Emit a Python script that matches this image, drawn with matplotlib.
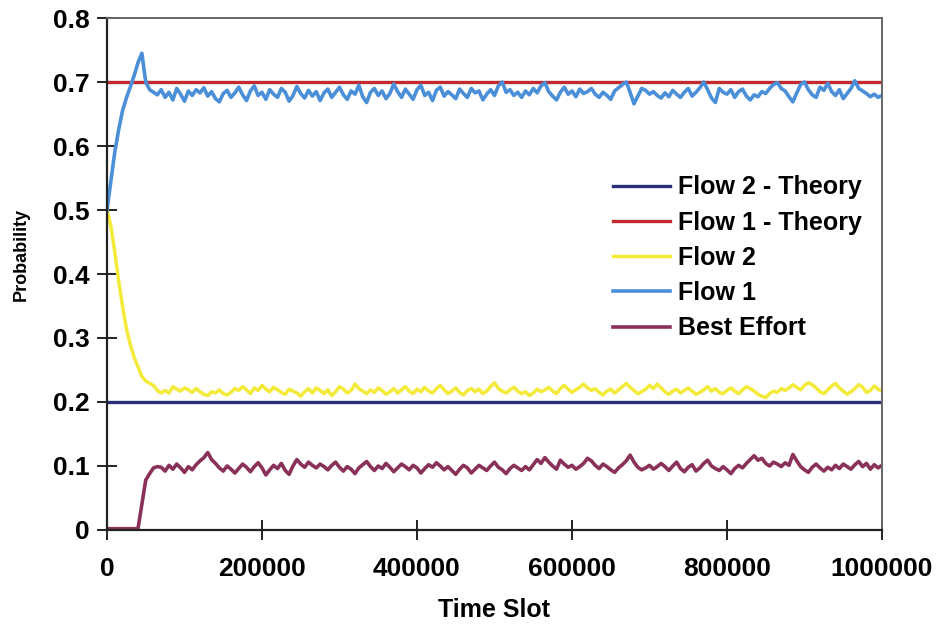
import numpy as np
import matplotlib
matplotlib.use("Agg")
import matplotlib.pyplot as plt

plt.rcParams['font.family'] = ['Liberation Sans', 'DejaVu Sans']
plt.rcParams['font.weight'] = 'bold'

# time slots, one sample every 5000 slots
time_slot = np.arange(0, 1000001, 5000)

flow1_theory = 0.7
flow2_theory = 0.2

flow1 = [
    0.50, 0.545, 0.59, 0.625, 0.655, 0.675, 0.692, 0.710, 0.730, 0.745, 0.700, 0.688, 0.684,
    0.680, 0.688, 0.676, 0.684, 0.672, 0.690, 0.681, 0.670, 0.686, 0.679,
    0.688, 0.683, 0.691, 0.678, 0.685, 0.674, 0.669, 0.682, 0.687, 0.676,
    0.683, 0.692, 0.680, 0.671, 0.686, 0.694, 0.679, 0.684, 0.673, 0.688,
    0.681, 0.676, 0.690, 0.684, 0.670, 0.679, 0.693, 0.682, 0.675, 0.687,
    0.678, 0.685, 0.671, 0.683, 0.689, 0.676, 0.684, 0.692, 0.680, 0.673,
    0.686, 0.681, 0.695, 0.677, 0.668, 0.684, 0.690, 0.679, 0.686, 0.674,
    0.682, 0.697, 0.685, 0.676, 0.689, 0.681, 0.673, 0.688, 0.695, 0.679,
    0.684, 0.671, 0.687, 0.692, 0.678, 0.685, 0.680, 0.674, 0.689, 0.682,
    0.676, 0.690, 0.683, 0.686, 0.672, 0.681, 0.688, 0.679, 0.694, 0.700,
    0.684, 0.688, 0.679, 0.684, 0.676, 0.686, 0.680, 0.690, 0.683, 0.694,
    0.699, 0.685, 0.678, 0.672, 0.684, 0.692, 0.681, 0.686, 0.677, 0.689,
    0.682, 0.685, 0.690, 0.681, 0.676, 0.684, 0.679, 0.673, 0.686, 0.691,
    0.696, 0.700, 0.684, 0.666, 0.678, 0.690, 0.687, 0.681, 0.685, 0.679,
    0.675, 0.683, 0.677, 0.687, 0.681, 0.676, 0.684, 0.690, 0.678, 0.684,
    0.691, 0.700, 0.688, 0.675, 0.668, 0.690, 0.684, 0.681, 0.688, 0.676,
    0.685, 0.689, 0.678, 0.672, 0.680, 0.677, 0.685, 0.682, 0.690, 0.696,
    0.699, 0.690, 0.686, 0.677, 0.669, 0.683, 0.696, 0.700, 0.688, 0.680,
    0.676, 0.692, 0.687, 0.698, 0.685, 0.679, 0.688, 0.674, 0.682, 0.690,
    0.702, 0.690, 0.686, 0.682, 0.677, 0.681, 0.676, 0.679,
]

flow2 = [
    0.50, 0.475, 0.435, 0.39, 0.35, 0.315, 0.29, 0.27, 0.255, 0.240, 0.233, 0.229, 0.226, 0.218, 0.214,
    0.218, 0.214, 0.224, 0.220, 0.217, 0.222, 0.219, 0.215, 0.221, 0.216,
    0.212, 0.210, 0.216, 0.214, 0.219, 0.213, 0.211, 0.215, 0.221, 0.218,
    0.224, 0.219, 0.213, 0.222, 0.218, 0.226, 0.220, 0.216, 0.223, 0.219,
    0.215, 0.212, 0.220, 0.217, 0.214, 0.209, 0.216, 0.221, 0.214, 0.222,
    0.218, 0.213, 0.219, 0.210, 0.216, 0.224, 0.220, 0.214, 0.218, 0.228,
    0.221, 0.217, 0.213, 0.219, 0.215, 0.222, 0.218, 0.212, 0.216, 0.221,
    0.214, 0.219, 0.224, 0.217, 0.213, 0.220, 0.216, 0.223, 0.217, 0.214,
    0.221, 0.226, 0.219, 0.213, 0.217, 0.222, 0.215, 0.211, 0.218, 0.221,
    0.216, 0.220, 0.213, 0.217, 0.224, 0.230, 0.221, 0.217, 0.214, 0.219,
    0.223, 0.217, 0.213, 0.216, 0.210, 0.214, 0.220, 0.216, 0.219, 0.223,
    0.217, 0.213, 0.221, 0.226, 0.220, 0.215, 0.219, 0.223, 0.228, 0.222,
    0.218, 0.221, 0.215, 0.211, 0.217, 0.220, 0.214, 0.219, 0.224, 0.229,
    0.223, 0.218, 0.213, 0.216, 0.220, 0.226, 0.221, 0.228, 0.222, 0.216,
    0.212, 0.217, 0.220, 0.214, 0.218, 0.222, 0.217, 0.212, 0.215, 0.219,
    0.224, 0.217, 0.221, 0.215, 0.213, 0.218, 0.222, 0.217, 0.213, 0.219,
    0.224, 0.221, 0.217, 0.212, 0.209, 0.207, 0.213, 0.217, 0.215, 0.221,
    0.218, 0.222, 0.227, 0.223, 0.219, 0.226, 0.230, 0.227, 0.222, 0.216,
    0.213, 0.219, 0.225, 0.229, 0.222, 0.217, 0.212, 0.216, 0.221, 0.227,
    0.223, 0.215, 0.218, 0.225, 0.220, 0.217,
]

best_effort = [
    0.002, 0.002, 0.002, 0.002, 0.002, 0.002, 0.002, 0.002, 0.002, 0.040, 0.078, 0.088, 0.097, 0.099,
    0.098, 0.092, 0.101, 0.095, 0.103, 0.097, 0.090, 0.099, 0.094, 0.102,
    0.108, 0.113, 0.121, 0.110, 0.104, 0.097, 0.092, 0.100, 0.095, 0.089,
    0.096, 0.103, 0.098, 0.091, 0.099, 0.105, 0.097, 0.086, 0.094, 0.101,
    0.096, 0.104, 0.093, 0.087, 0.100, 0.110, 0.103, 0.098, 0.106, 0.101,
    0.097, 0.103, 0.099, 0.094, 0.101, 0.106, 0.098, 0.092, 0.099, 0.095,
    0.088, 0.097, 0.102, 0.107, 0.099, 0.093, 0.100, 0.096, 0.104, 0.098,
    0.091, 0.097, 0.103, 0.099, 0.094, 0.101, 0.097, 0.089, 0.096, 0.102,
    0.098, 0.105, 0.100, 0.094, 0.099, 0.093, 0.087, 0.095, 0.101, 0.097,
    0.089, 0.095, 0.101, 0.097, 0.093, 0.100, 0.106, 0.098, 0.094, 0.088,
    0.096, 0.101, 0.097, 0.093, 0.099, 0.094, 0.102, 0.110, 0.104, 0.113,
    0.106, 0.100, 0.095, 0.109, 0.103, 0.098, 0.101, 0.095, 0.099, 0.104,
    0.112, 0.108, 0.101, 0.096, 0.103, 0.099, 0.094, 0.090, 0.097, 0.102,
    0.108, 0.117, 0.106, 0.098, 0.094, 0.097, 0.101, 0.095, 0.099, 0.104,
    0.099, 0.093, 0.100, 0.106, 0.096, 0.091, 0.098, 0.102, 0.092, 0.097,
    0.104, 0.109, 0.100, 0.096, 0.093, 0.099, 0.094, 0.088, 0.096, 0.101,
    0.097, 0.104, 0.110, 0.116, 0.109, 0.112, 0.104, 0.100, 0.106, 0.103,
    0.099, 0.105, 0.101, 0.118, 0.108, 0.099, 0.094, 0.090, 0.098, 0.103,
    0.097, 0.092, 0.098, 0.094, 0.101, 0.096, 0.103, 0.099, 0.095, 0.102,
    0.107, 0.099, 0.104, 0.095, 0.102, 0.097, 0.101,
]

fig = plt.figure(figsize=(9.36, 6.26), dpi=100)
ax = fig.add_axes([0.1143, 0.1534, 0.8280, 0.8178])

ax.axhline(flow2_theory, color='#2a2f78', lw=2.4, label='Flow 2 - Theory')
ax.axhline(flow1_theory, color='#c22a30', lw=2.4, label='Flow 1 - Theory')
ax.plot(time_slot, flow2, color='#f3ea3a', lw=2.5, label='Flow 2')
ax.plot(time_slot, flow1, color='#4a8fd8', lw=2.6, label='Flow 1')
ax.plot(time_slot, best_effort, color='#8a3159', lw=2.6, label='Best Effort')

ax.set_xlim(0, 1000000)
ax.set_ylim(0, 0.8)
ax.set_xticks([0, 200000, 400000, 600000, 800000, 1000000])
ax.set_xticklabels(['0', '200000', '400000', '600000', '800000', '1000000'])
ax.set_yticks([0, 0.1, 0.2, 0.3, 0.4, 0.5, 0.6, 0.7, 0.8])
ax.set_yticklabels(['0', '0.1', '0.2', '0.3', '0.4', '0.5', '0.6', '0.7', '0.8'])
ax.tick_params(axis='both', direction='inout', length=15, width=1.4,
               color='#222222', labelsize=19)
ax.tick_params(axis='x', pad=12)
ax.tick_params(axis='y', pad=5)

for s in ['left', 'bottom']:
    ax.spines[s].set_color('#222222')
    ax.spines[s].set_linewidth(1.6)
for s in ['top', 'right']:
    ax.spines[s].set_color('#666666')
    ax.spines[s].set_linewidth(1.4)

ax.set_xlabel('Time Slot', fontsize=18, fontweight='bold', labelpad=12)
ax.set_ylabel('Probability', fontsize=13, fontweight='bold')
ax.yaxis.set_label_coords(-0.100, 0.539)

ax.legend(loc='upper left', bbox_to_anchor=(0.640, 0.712), frameon=False,
          prop={'size': 18, 'weight': 'bold'}, handlelength=2.3,
          handletextpad=0.3, labelspacing=0.45, borderaxespad=0)

fig.savefig('out.png', dpi=100)
